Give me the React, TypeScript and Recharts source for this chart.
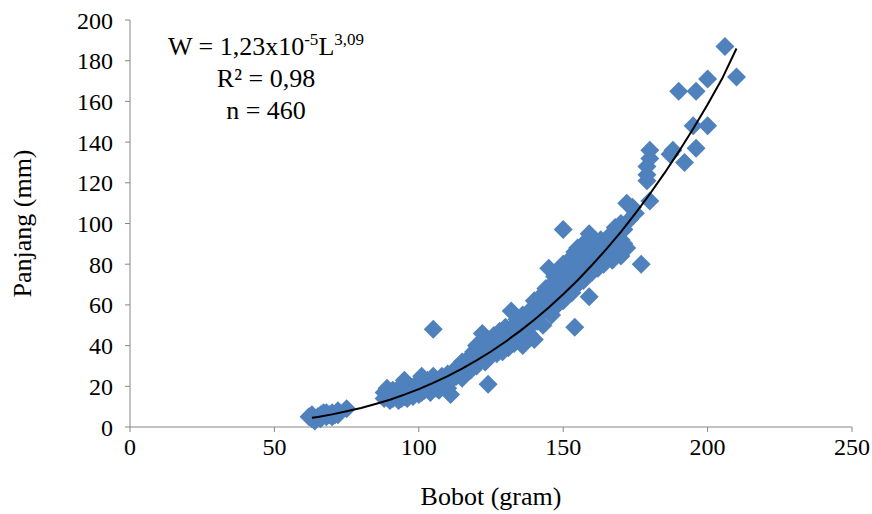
import React from "react";
import {
  ScatterChart, Scatter, XAxis, YAxis, Label
} from "recharts";

// observed fish: [bobot, panjang]
const smallFish: [number, number][] = [
  [62, 5], [63, 4], [63, 6], [64, 3], [65, 5], [66, 6], [66, 4], [67, 7], [68, 5],
  [68, 7], [69, 6], [70, 7], [70, 5], [71, 6], [72, 8], [72, 6], [75, 9],
];

const midFish: [number, number][] = [
  [88, 14], [88, 17], [89, 19], [89, 15], [90, 13], [90, 16], [91, 18], [91, 14],
  [92, 15], [92, 17], [93, 13], [93, 19], [94, 16], [94, 14], [95, 23], [95, 18],
  [95, 15], [96, 17], [96, 14], [97, 20], [97, 16], [98, 15], [98, 18], [99, 17],
  [99, 21], [100, 16], [100, 19], [100, 22],
  [101, 17], [101, 25], [102, 18], [102, 20], [103, 19], [103, 23], [104, 17], [104, 21],
  [105, 48], [105, 20], [105, 25], [106, 19], [106, 23], [107, 18], [107, 22], [108, 21],
  [108, 25], [109, 20], [109, 24], [110, 22], [110, 26], [110, 19], [111, 16], [111, 23],
  [112, 24], [112, 27],
  [113, 25], [113, 29], [114, 26], [114, 30], [115, 24], [115, 28], [115, 32], [116, 27],
  [116, 31], [117, 29], [117, 33], [118, 28], [118, 35], [119, 31], [119, 37], [120, 30],
  [120, 34], [120, 40], [121, 33], [121, 38], [122, 46], [122, 35], [123, 32], [123, 40],
  [124, 21], [124, 37], [125, 35], [125, 43],
];

const largeFish: [number, number][] = [
  [126, 38], [126, 45], [127, 36], [127, 41], [128, 40], [128, 47], [129, 37], [129, 44],
  [130, 42], [130, 49], [131, 39], [131, 46], [132, 57], [132, 44], [133, 41], [133, 50],
  [134, 47], [134, 53], [135, 44], [135, 51], [136, 55], [136, 40], [137, 48], [137, 53],
  [138, 46], [138, 56], [139, 50], [139, 58], [140, 43], [140, 54], [140, 62],
  [141, 52], [141, 60], [142, 56], [142, 64], [143, 50], [143, 59], [144, 62], [144, 68],
  [145, 78], [145, 58], [145, 66], [146, 55], [146, 70], [147, 64], [147, 74], [148, 60],
  [148, 68], [148, 76], [149, 66], [149, 72], [150, 97], [150, 62], [150, 70], [150, 80],
  [151, 68], [151, 76], [152, 72], [152, 82], [153, 66], [153, 78], [154, 49], [154, 74],
  [154, 86], [155, 70], [155, 80], [155, 88], [156, 76], [156, 84], [157, 72], [157, 82],
  [157, 90], [158, 78], [158, 86], [159, 64], [159, 95], [159, 80], [160, 76], [160, 84],
  [160, 90],
  [161, 80], [161, 88], [162, 78], [162, 86], [163, 82], [163, 92], [164, 80], [164, 88],
  [165, 84], [165, 90], [166, 86], [166, 94], [167, 82], [167, 90], [168, 88], [168, 98],
  [169, 86], [169, 95], [170, 84], [170, 92], [170, 100], [171, 90], [171, 97], [172, 110],
  [172, 88], [173, 102], [174, 108], [175, 105],
];

const biggestFish: [number, number][] = [
  [177, 80], [179, 121], [179, 124], [179, 128], [180, 132], [180, 136], [180, 111],
  [187, 134], [188, 136], [192, 130], [196, 137], [195, 148], [200, 148], [190, 165],
  [196, 165], [200, 171], [206, 187], [210, 172],
];

// fitted power curve as drawn
const trendBobot = [63, 65, 70, 75, 80, 85, 90, 95, 100, 105, 110, 115, 120, 125, 130, 135,
  140, 145, 150, 155, 160, 165, 170, 175, 180, 185, 190, 195, 200, 205, 210];
const trendPanjang = [4.5, 4.9, 6.2, 7.7, 9.3, 11.3, 13.4, 15.9, 18.6, 21.7, 25.0, 28.7,
  32.7, 37.1, 41.9, 47.1, 52.7, 58.7, 65.2, 72.1, 79.6, 87.5, 95.9, 105.0, 114.5, 124.6,
  135.3, 146.6, 158.5, 171.1, 186];

const xTicks = [0, 50, 100, 150, 200, 250];
const yTicks = [0, 20, 40, 60, 80, 100, 120, 140, 160, 180, 200];

const FONT = "'Liberation Serif', 'Times New Roman', serif";
const AXIS = "#868686";
const BLUE = "#4F81BD";

const points = [...smallFish, ...midFish, ...largeFish, ...biggestFish].map(([x, y]) => ({ x, y }));
const trend = trendBobot.map((x, i) => ({ x, y: trendPanjang[i] }));

const Diamond = (props: any) => {
  const { cx, cy } = props;
  const r = 9.5;
  return (
    <path
      d={`M${cx},${cy - r}L${cx + r},${cy}L${cx},${cy + r}L${cx - r},${cy}Z`}
      fill={BLUE}
    />
  );
};

export default function App() {
  const tick = { fill: "#000", fontSize: 24, fontFamily: FONT };
  const title = { fill: "#000", fontSize: 26, fontFamily: FONT };
  return (
    <div style={{ position: "absolute", left: 0, top: 0, width: 872, height: 514, background: "#fff" }}>
      <ScatterChart width={872} height={514} margin={{ top: 20, right: 20, bottom: 0, left: 0 }}>
        <XAxis
          type="number"
          dataKey="x"
          domain={[0, 250]}
          ticks={xTicks}
          height={87}
          stroke={AXIS}
          tickSize={5}
          tickMargin={6}
          tick={tick}
        >
          <Label value="Bobot (gram)" position="insideBottom" offset={9} style={title} />
        </XAxis>
        <YAxis
          type="number"
          dataKey="y"
          domain={[0, 200]}
          ticks={yTicks}
          width={130}
          stroke={AXIS}
          tickSize={5}
          tickMargin={12}
          tick={tick}
        >
          <Label value="Panjang (mm)" angle={-90} position="insideLeft" offset={22}
            style={{ ...title, textAnchor: "middle" }} />
        </YAxis>
        <Scatter data={points} shape={<Diamond />} isAnimationActive={false} />
        <Scatter
          data={trend}
          line={{ stroke: "#000", strokeWidth: 2 }}
          lineJointType="linear"
          shape={() => <g />}
          isAnimationActive={false}
        />
      </ScatterChart>
      <div
        style={{
          position: "absolute", left: 146, top: 31, width: 240, textAlign: "center",
          fontFamily: FONT, fontSize: 26, lineHeight: "32px", color: "#000",
        }}
      >
        <div>W = 1,23x10<sup style={{ fontSize: 17, lineHeight: 0 }}>-5</sup>L<sup style={{ fontSize: 17, lineHeight: 0 }}>3,09</sup></div>
        <div>R² = 0,98</div>
        <div>n = 460</div>
      </div>
    </div>
  );
}
